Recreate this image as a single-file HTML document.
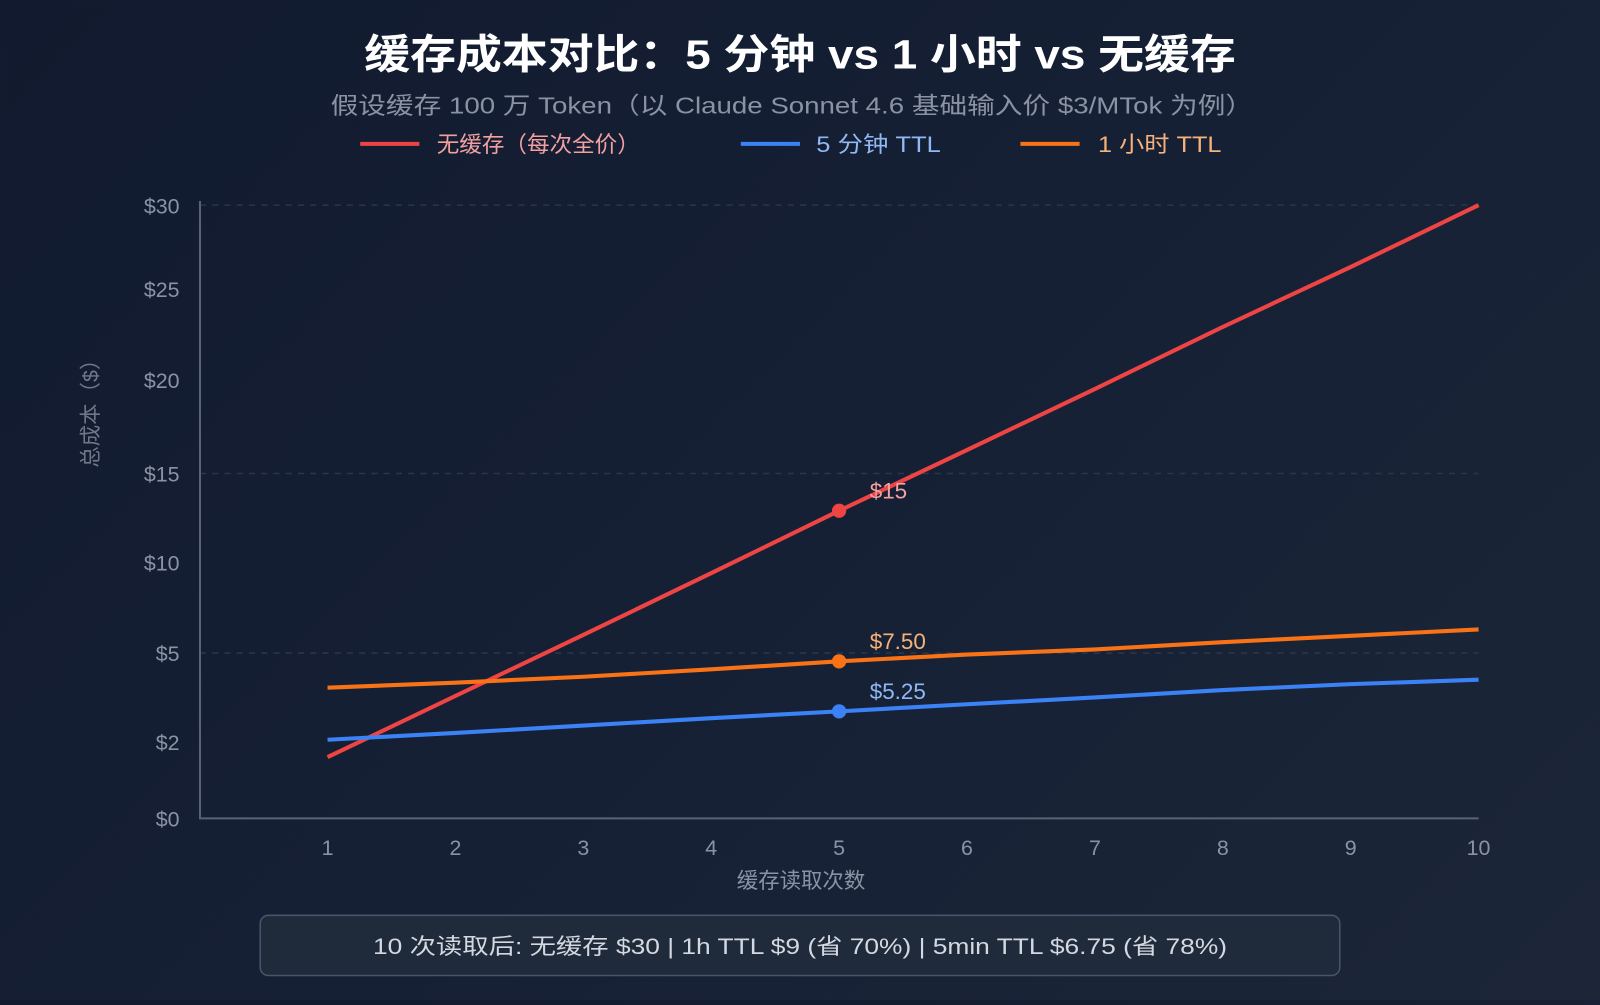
<!DOCTYPE html>
<html><head><meta charset="utf-8">
<style>
body{margin:0;width:1600px;height:1000px;overflow:hidden;background:linear-gradient(135deg,#111a2e 0%,#162035 50%,#1c2638 100%);font-family:"Liberation Sans","Noto Sans CJK SC",sans-serif;}
</style></head>
<body>
<svg width="1600" height="1000" viewBox="0 0 1568 980" xmlns="http://www.w3.org/2000/svg" id="chart">
<text x="784" y="67" text-anchor="middle" fill="#ffffff" font-size="40" font-weight="bold" textLength="854" lengthAdjust="spacingAndGlyphs" font-family="Liberation Sans,Noto Sans CJK SC,sans-serif">缓存成本对比：5 分钟 vs 1 小时 vs 无缓存</text>
<text x="776" y="111" text-anchor="middle" fill="#8a93a6" font-size="23" textLength="904" lengthAdjust="spacingAndGlyphs" font-family="Liberation Sans,Noto Sans CJK SC,sans-serif">假设缓存 100 万 Token（以 Claude Sonnet 4.6 基础输入价 $3/MTok 为例）</text>
<g font-size="22" font-family="Liberation Sans,Noto Sans CJK SC,sans-serif">
<g><line x1="353" y1="141" x2="411" y2="141" stroke="#ef4444" stroke-width="4"/><text x="428" y="149" fill="#f2a0a0" textLength="199" lengthAdjust="spacingAndGlyphs">无缓存（每次全价）</text></g>
<g><line x1="726" y1="141" x2="784" y2="141" stroke="#3b82f6" stroke-width="4"/><text x="800" y="149" fill="#8fb8f5" textLength="122" lengthAdjust="spacingAndGlyphs">5 分钟 TTL</text></g>
<g><line x1="1000" y1="141" x2="1058" y2="141" stroke="#f97316" stroke-width="4"/><text x="1076" y="149" fill="#f7b27a" textLength="121" lengthAdjust="spacingAndGlyphs">1 小时 TTL</text></g>
</g>
<g id="plot"></g>
<text transform="translate(96,400) rotate(-90)" text-anchor="middle" fill="#6f788b" font-size="21" font-family="Liberation Sans,Noto Sans CJK SC,sans-serif">总成本（$）</text>
<text x="785" y="870" text-anchor="middle" fill="#8a93a6" font-size="21" font-family="Liberation Sans,Noto Sans CJK SC,sans-serif">缓存读取次数</text>
<g>
<rect x="255" y="897" width="1058" height="59" rx="8" fill="#1f2a3b" stroke="#4a5468" stroke-width="1.5"/>
<text x="784" y="935" text-anchor="middle" fill="#d4d8e0" font-size="22" textLength="837" lengthAdjust="spacingAndGlyphs" font-family="Liberation Sans,Noto Sans CJK SC,sans-serif">10 次读取后: 无缓存 $30 | 1h TTL $9 (省 70%) | 5min TTL $6.75 (省 78%)</text>
</g>
</svg>
<script>
const categories=[1,2,3,4,5,6,7,8,9,10];
const noCache=[1.6,3.55,6.0,9.4,12.9,16.25,19.5,22.9,26.3,30];
const ttl5m=[2.07,2.3,2.55,2.8,3.03,3.27,3.5,3.75,3.95,4.1];
const ttl1h=[3.83,4.0,4.2,4.45,4.72,4.95,5.2,5.6,5.95,6.3];
const yTicks=[0,2,5,10,15,20,25,30];
const yTickLabels=["$0","$2","$5","$10","$15","$20","$25","$30"];
const gridTicks=[5,15,30];
const annotations=[{s:0,i:4,t:"$15"},{s:2,i:4,t:"$7.50"},{s:1,i:4,t:"$5.25"}];

const NS="http://www.w3.org/2000/svg";
const plot=document.getElementById('plot');
const yPix=[802,727,640,551,464,372,283,201];
function xs(v){return 321+(v-1)*(1449-321)/9;}
function ys(v){for(let k=0;k<yTicks.length-1;k++){if(v<=yTicks[k+1]||k==yTicks.length-2){const t=(v-yTicks[k])/(yTicks[k+1]-yTicks[k]);return yPix[k]+t*(yPix[k+1]-yPix[k]);}}}
function mk(tag,attrs,parent){const e=document.createElementNS(NS,tag);for(const k in attrs)e.setAttribute(k,attrs[k]);(parent||plot).appendChild(e);return e;}
gridTicks.forEach(v=>{const l=mk('line',{x1:196,x2:1449,y1:ys(v),y2:ys(v),stroke:'#2c3547','stroke-dasharray':'6,6','stroke-width':1.5});

});
const ax=mk('path',{d:'M196 197 V802 H1449',stroke:'#5a6376','stroke-width':2,fill:'none'});


yTicks.forEach((v,i)=>{const t=mk('text',{x:176,y:ys(v)+8,'text-anchor':'end',fill:'#8a93a6','font-size':21,'font-family':'Liberation Sans,sans-serif'});t.textContent=yTickLabels[i];

});
categories.forEach(c=>{const t=mk('text',{x:xs(c),y:838,'text-anchor':'middle',fill:'#8a93a6','font-size':21,'font-family':'Liberation Sans,sans-serif'});t.textContent=c;

});
const series=[{d:noCache,c:'#ef4444',n:'line-no-cache',lc:'#f2a0a0'},{d:ttl5m,c:'#3b82f6',n:'line-5min-ttl',lc:'#8fb8f5'},{d:ttl1h,c:'#f97316',n:'line-1h-ttl',lc:'#f7b27a'}];
series.forEach(s=>{const p=mk('polyline',{points:s.d.map((v,i)=>xs(categories[i])+','+ys(v)).join(' '),fill:'none',stroke:s.c,'stroke-width':4,'stroke-linejoin':'round'});

});
annotations.forEach(a=>{const s=series[a.s];const cx=xs(categories[a.i]),cy=ys(s.d[a.i]);
const c=mk('circle',{cx:cx,cy:cy,r:7,fill:s.c});


const t=mk('text',{x:cx+30,y:cy-12,fill:s.lc,'font-size':22,'font-family':'Liberation Sans,sans-serif'});t.textContent=a.t;

});
</script>
</body></html>
